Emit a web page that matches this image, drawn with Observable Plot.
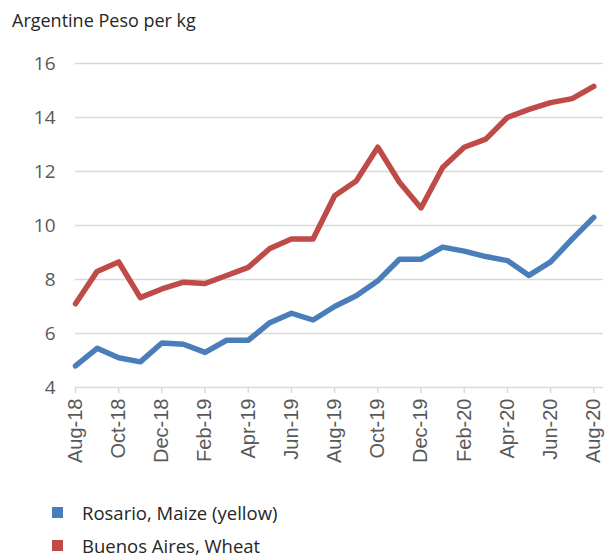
<!DOCTYPE html>
<html>
<head>
<meta charset="utf-8">
<script src="https://cdn.jsdelivr.net/npm/d3@7"></script>
<script src="https://cdn.jsdelivr.net/npm/@observablehq/plot@0.6"></script>
<style>
  html, body { margin: 0; padding: 0; background: #fff; }
  body { width: 608px; height: 558px; overflow: hidden; font-family: "Open Sans", sans-serif; }
  #title { height: 35px; box-sizing: border-box; padding: 7px 0 0 12px; font-size: 18px; line-height: 26px; color: #262626; }
  #chart svg { display: block; }
  .legend { margin-left: 52px; margin-top: 21px; }
  .item { display: flex; align-items: center; height: 33px; font-size: 18.5px; color: #262626; }
  .sw { width: 11px; height: 11px; margin-right: 19px; }
</style>
</head>
<body>
<div id="title">Argentine Peso per kg</div>
<div id="chart"></div>
<div class="legend" id="legend"></div>
<script>
const months = ["Aug-18","Sep-18","Oct-18","Nov-18","Dec-18","Jan-19","Feb-19","Mar-19","Apr-19","May-19","Jun-19","Jul-19","Aug-19","Sep-19","Oct-19","Nov-19","Dec-19","Jan-20","Feb-20","Mar-20","Apr-20","May-20","Jun-20","Jul-20","Aug-20"];
const maize = [4.8,5.45,5.1,4.95,5.65,5.6,5.3,5.75,5.75,6.4,6.75,6.5,7.0,7.4,7.95,8.75,8.75,9.2,9.05,8.85,8.7,8.15,8.65,9.5,10.3];
const wheat = [7.1,8.3,8.65,7.33,7.65,7.9,7.85,8.15,8.45,9.15,9.5,9.5,11.1,11.65,12.9,11.6,10.65,12.15,12.9,13.2,14.0,14.3,14.55,14.7,15.15];
const seriesNames = ["Rosario, Maize (yellow)", "Buenos Aires, Wheat"];
const seriesColors = ["#4a7ebb", "#be4b48"];
const yTicks = [4, 6, 8, 10, 12, 14, 16];

const rows = [];
months.forEach((m, i) => {
  rows.push({i, month: m, value: maize[i], series: seriesNames[0]});
  rows.push({i, month: m, value: wheat[i], series: seriesNames[1]});
});
const xTicks = months.map((m, i) => i).filter(i => i % 2 === 0);

const chart = Plot.plot({
  width: 608,
  height: 440,
  marginTop: 28,
  marginBottom: 88,
  marginLeft: 75,
  marginRight: 5,
  style: {fontFamily: "Open Sans, sans-serif", background: "#fff"},
  x: {type: "linear", domain: [0, 24.45], label: null},
  y: {domain: [4, 16], label: null},
  color: {domain: seriesNames, range: seriesColors},
  marks: [
    Plot.gridY(yTicks.filter(v => v > 4), {stroke: "#d9d9d9", strokeOpacity: 1, strokeWidth: 1.5}),
    Plot.ruleY([4], {stroke: "#d9d9d9", strokeWidth: 1.5}),
    Plot.axisY(yTicks, {tickSize: 0, tickPadding: 20, fontSize: 19, fill: "#595959", tickFormat: d => d, label: null}),
    Plot.axisX(xTicks, {
      tickSize: 6, stroke: "#d9d9d9", strokeWidth: 1.5, tickPadding: 5, tickRotate: -90,
      fontSize: 20, fill: "#595959", fontFamily: "Liberation Sans, Arial, sans-serif",
      tickFormat: i => months[i], label: null
    }),
    Plot.line(rows, {x: "i", y: "value", z: "series", stroke: "series", strokeWidth: 5.5, strokeLinejoin: "round", strokeLinecap: "round"})
  ]
});
document.getElementById("chart").appendChild(chart);

const leg = document.getElementById("legend");
seriesNames.forEach((n, k) => {
  const d = document.createElement("div");
  d.className = "item";
  d.innerHTML = `<span class="sw" style="background:${seriesColors[k]}"></span><span>${n}</span>`;
  leg.appendChild(d);
});
</script>
</body>
</html>
